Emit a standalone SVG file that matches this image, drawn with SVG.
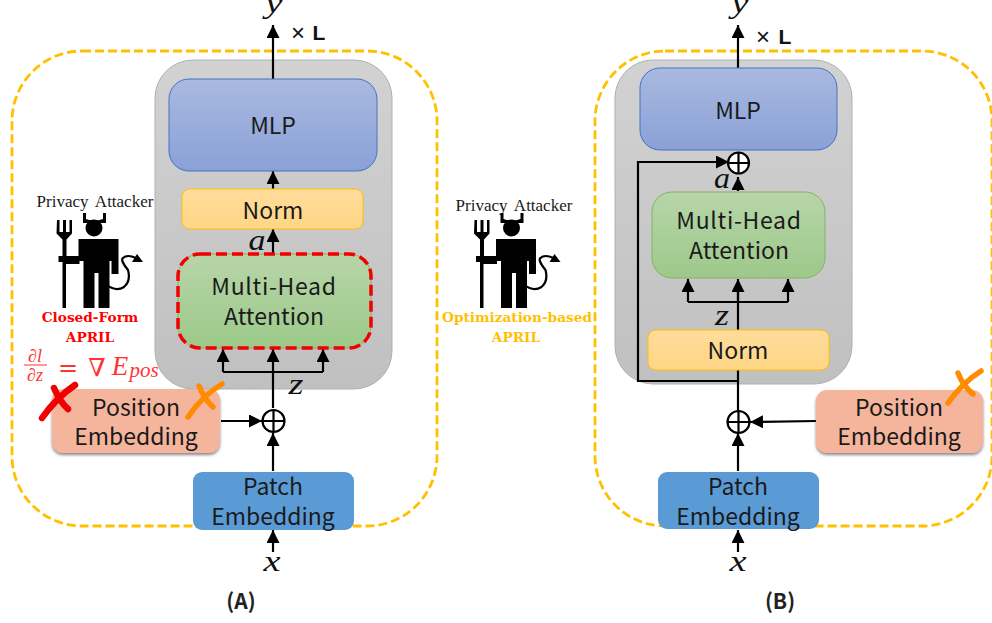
<svg xmlns="http://www.w3.org/2000/svg" width="992" height="623" viewBox="0 0 992 623">
<style>
text{font-family:"Noto Sans CJK SC","Noto Sans",sans-serif;fill:#1a1a1a;text-anchor:middle}
.lbl{font-size:23px}
.mh{letter-spacing:.7px}
.m{font-family:"Liberation Serif",serif;font-style:italic;font-size:30px;fill:#111}
.pa{font-family:"Liberation Serif",serif;font-size:17px;word-spacing:3px}
.red{font-family:"DejaVu Serif",serif;font-weight:bold;font-size:13.700px;fill:#ff0000}
.yel{font-family:"DejaVu Serif",serif;font-weight:bold;font-size:13.700px;fill:#ffc000}
.t{font-family:"Liberation Sans",sans-serif;font-size:24px;fill:#111}
.tb{font-family:"Liberation Sans",sans-serif;font-weight:bold;font-size:21px;fill:#111}
.cap{font-family:"Noto Sans CJK SC",sans-serif;font-weight:700;font-size:21px;fill:#222}
.f{font-family:"Liberation Serif",serif;font-style:italic;fill:#f33}
.fs{font-family:"DejaVu Serif",serif;fill:#f33}
.out{fill:none;stroke:#ffc000;stroke-width:2.800;stroke-dasharray:9 4}
.grey{fill:url(#g);stroke:#b0b0b0;stroke-width:1}
.mlp{fill:url(#b);stroke:#4472c4;stroke-width:1}
.norm{fill:url(#o);stroke:#ffc000;stroke-width:1}
.mha{fill:url(#gr);stroke:#82b366;stroke-width:1}
.pos{fill:#f5b59d;filter:url(#sh)}
.patch{fill:#5b9bd5}
.ln{fill:none;stroke:#000;stroke-width:2.200}
.ar{fill:none;stroke:#000;stroke-width:2.200;marker-end:url(#a)}
.c{fill:#fff;stroke:#000;stroke-width:2.200}
</style>
<defs>
<linearGradient id="g" x1="0" y1="0" x2="0" y2="1"><stop offset="0" stop-color="#d2d2d2"/><stop offset="1" stop-color="#c0c0c0"/></linearGradient>
<linearGradient id="b" x1="0" y1="0" x2="0" y2="1"><stop offset="0" stop-color="#a9b9e0"/><stop offset="1" stop-color="#8aa1d7"/></linearGradient>
<linearGradient id="o" x1="0" y1="0" x2="0" y2="1"><stop offset="0" stop-color="#ffdc9c"/><stop offset="1" stop-color="#ffd685"/></linearGradient>
<linearGradient id="gr" x1="0" y1="0" x2="0" y2="1"><stop offset="0" stop-color="#b7d5a8"/><stop offset="1" stop-color="#9dc98a"/></linearGradient>
<filter id="sh" x="-10%" y="-10%" width="120%" height="125%"><feDropShadow dx="0" dy="2" stdDeviation="1.500" flood-color="#555" flood-opacity="0.7"/></filter>
<marker id="a" markerUnits="userSpaceOnUse" markerWidth="14" markerHeight="14" refX="13" refY="6.500" orient="auto"><path d="M0 0L13 6.500L0 13Z" fill="#000"/></marker>
<g id="devil">
<path d="M57 220h2.500v12h3.500v-12h3v12h3.500v-12h2.500v13.500l-5.500 6V256h12v-17h40v35h-7v-13h-2v47h-11v-35h-4v35h-11v-47h-4v3h-13.500V308h-3.500v-46h-4v-6h4v-16.500l-6-6Z" fill="#000"/>
<path d="M83 213h3v6q8 3 17 0v-6h3v10h-23Z" fill="#000"/>
<circle cx="94" cy="228" r="8.500" fill="#000"/>
<path d="M107 285Q116 292 124 287Q131 281 128 270Q120 260 123 258Q127 254 136 258" fill="none" stroke="#000" stroke-width="2.200"/>
<path d="M137 254l6 8h-11Z" fill="#000"/>
</g>
</defs>

<g id="panel-a">
<rect id="outer-a" class="out" x="12" y="51" width="425" height="475" rx="70"/>
<rect id="block-a" class="grey" x="155" y="60" width="237" height="329" rx="38"/>
</g>
<g id="panel-b">
<rect id="outer-b" class="out" x="595" y="51" width="397" height="475" rx="70"/>
<rect id="block-b" class="grey" x="615" y="60" width="237" height="324" rx="38"/>
</g>

<g id="connectors">
<path class="ar" d="M273 79V25"/>
<path class="ar" d="M273 189V171"/>
<path class="ar" d="M273 254V229"/>
<path class="ln" d="M223 372H323"/>
<path class="ar" d="M223 372V349"/>
<path class="ar" d="M273 408V349"/>
<path class="ar" d="M323 372V349"/>
<path class="ar" d="M221 421H262"/>
<path class="ar" d="M273 471V433"/>
<path class="ar" d="M273 552V530"/>
<path class="ar" d="M738 68V25"/>
<path class="ln" d="M738 330V288M688 302H788"/>
<path class="ar" d="M688 302V279"/>
<path class="ar" d="M738 302V279"/>
<path class="ar" d="M788 302V279"/>
<path class="ar" d="M738 191V177"/>
<path class="ar" d="M738 381H638V162H729"/>
<path class="ln" d="M738 370V410"/>
<path class="ar" d="M816 421L750 422"/>
<path class="ar" d="M738 471V433"/>
<path class="ar" d="M738 552V530"/>
</g>

<g id="a-mlp"><rect class="mlp" x="169" y="79" width="208" height="92" rx="20"/><text class="lbl" x="273" y="134">MLP</text></g>
<g id="a-norm"><rect class="norm" x="182" y="189" width="181" height="40" rx="8"/><text class="lbl" x="273" y="219">Norm</text></g>
<g id="a-mha"><rect class="mha" x="178" y="254" width="193" height="94" rx="22" stroke="none"/><rect x="178" y="254" width="193" height="94" rx="22" fill="none" stroke="#f00000" stroke-width="3.500" stroke-dasharray="11 5"/><text class="lbl" y="295"><tspan class="mh" x="274">Multi-Head</tspan><tspan x="274" dy="30">Attention</tspan></text></g>
<g id="a-pos"><rect class="pos" x="52" y="389" width="168" height="64" rx="11"/><text class="lbl" y="416"><tspan x="136">Position</tspan><tspan x="136" dy="29">Embedding</tspan></text></g>
<g id="a-patch"><rect class="patch" x="193" y="472" width="161" height="58" rx="9"/><text class="lbl" y="495"><tspan x="273">Patch</tspan><tspan x="273" dy="30">Embedding</tspan></text></g>
<g id="a-add"><circle class="c" cx="273.500" cy="421" r="11"/><path class="ln" d="M262.500 421H284.500M273.500 410V432"/></g>

<g id="b-mlp"><rect class="mlp" x="640" y="68" width="197" height="82" rx="20"/><text class="lbl" x="738" y="119">MLP</text></g>
<g id="b-mha"><rect class="mha" x="652" y="192" width="173" height="86" rx="20"/><text class="lbl" y="229"><tspan class="mh" x="739">Multi-Head</tspan><tspan x="739" dy="30">Attention</tspan></text></g>
<g id="b-norm"><rect class="norm" x="648" y="330" width="181" height="40" rx="8"/><text class="lbl" x="738" y="359">Norm</text></g>
<g id="b-pos"><rect class="pos" x="816" y="390" width="167" height="63" rx="11"/><text class="lbl" y="416"><tspan x="899">Position</tspan><tspan x="899" dy="29">Embedding</tspan></text></g>
<g id="b-patch"><rect class="patch" x="658" y="472" width="161" height="57" rx="9"/><text class="lbl" y="495"><tspan x="738">Patch</tspan><tspan x="738" dy="30">Embedding</tspan></text></g>
<g id="b-add1"><circle class="c" cx="738.500" cy="422" r="11"/><path class="ln" d="M727.500 422H749.500M738.500 411V433"/></g>
<g id="b-add2"><circle class="c" cx="738.500" cy="163" r="10.500"/><path class="ln" d="M728 163H749M738.500 152.500V173.500"/></g>

<g id="math">
<text class="m" x="274" y="13" textLength="17" lengthAdjust="spacingAndGlyphs">y</text><text class="m" x="740" y="13" textLength="17" lengthAdjust="spacingAndGlyphs">y</text>
<text class="m" x="257" y="250" textLength="17" lengthAdjust="spacingAndGlyphs">a</text><text class="m" x="722" y="188" textLength="16" lengthAdjust="spacingAndGlyphs">a</text>
<text class="m" x="296" y="394" textLength="15" lengthAdjust="spacingAndGlyphs">z</text><text class="m" x="722" y="325" textLength="14" lengthAdjust="spacingAndGlyphs">z</text>
<text class="m" x="272" y="571" textLength="17" lengthAdjust="spacingAndGlyphs">x</text><text class="m" x="738" y="571" textLength="17" lengthAdjust="spacingAndGlyphs">x</text>
</g>
<g id="repeat-labels">
<text class="t" x="298" y="41">×</text><text class="tb" x="319" y="39.500">L</text>
<text class="t" x="763" y="45">×</text><text class="tb" x="785" y="43.500">L</text>
</g>

<g id="attacker-a">
<text class="pa" x="95" y="207">Privacy Attacker</text>
<use href="#devil"/>
<text class="red" x="90" y="322">Closed-Form</text>
<text class="red" x="90" y="342">APRIL</text>
</g>
<g id="attacker-b">
<text class="pa" x="514" y="211">Privacy Attacker</text>
<use href="#devil" transform="translate(417.500 0)"/>
<text class="yel" x="517" y="322">Optimization-based</text>
<text class="yel" x="516" y="342">APRIL</text>
</g>

<g id="formula">
<text class="f" x="35" y="362" font-size="18">∂l</text>
<path d="M24 365H47" stroke="#f33" stroke-width="1"/>
<text class="f" x="35" y="381" font-size="18">∂z</text>
<text class="fs" x="68" y="376" font-size="24">=</text>
<text class="fs" x="97" y="376" font-size="25">∇</text>
<text class="f" x="120" y="375" font-size="27">E</text>
<text class="f" x="144" y="377" font-size="21">pos</text>
</g>

<g id="crosses" fill="none" stroke-linecap="round">
<path d="M42 418Q56 398 75 385" stroke="#f00000" stroke-width="6.500"/><path d="M54 388Q60 402 68 409" stroke="#f00000" stroke-width="6.500"/>
<path d="M188 417Q202 396 222 384" stroke="#ff8c00" stroke-width="5.500"/><path d="M199 386Q205 400 213 407" stroke="#ff8c00" stroke-width="5.500"/>
<path d="M948 403Q962 383 981 371" stroke="#ff8c00" stroke-width="5.500"/><path d="M958 373Q963 386 973 394" stroke="#ff8c00" stroke-width="5.500"/>
</g>

<g id="captions">
<text class="cap" x="241" y="609">(A)</text>
<text class="cap" x="780" y="609">(B)</text>
</g>
</svg>
